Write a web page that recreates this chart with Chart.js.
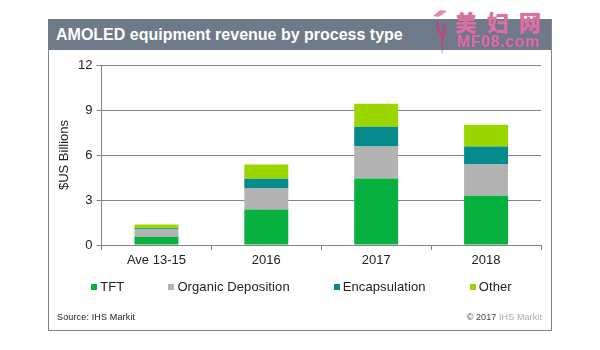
<!DOCTYPE html>
<html>
<head>
<meta charset="utf-8">
<script src="https://cdn.jsdelivr.net/npm/chart.js@4"></script>
<style>
  html, body { margin: 0; padding: 0; background: #fff; }
  #wrap { position: relative; width: 600px; height: 350px; overflow: hidden; font-family: "Liberation Sans", Arial, sans-serif; }
  #frame { position: absolute; left: 48px; top: 19px; width: 502px; height: 311px; border: 1px solid #7f8488; border-top: none; }
  #bar { position: absolute; left: 48px; top: 19px; width: 503px; height: 31px; background: #6e7a87; color: #fff; font-weight: bold; font-size: 16px; line-height: 31px; text-indent: 8px; }
  canvas { position: absolute; left: 0; top: 0; }
  #legend { position: absolute; left: 0; width: 603px; top: 279px; display: flex; justify-content: center; gap: 44px; font-size: 13px; letter-spacing: 0.1px; color: #222; line-height: 16px; }
  #legend span i { display: inline-block; width: 6px; height: 6px; margin-right: 3px; vertical-align: 1px; }
  #source { position: absolute; left: 57px; top: 312px; font-size: 9px; letter-spacing: 0.15px; color: #222; }
  #copy { position: absolute; right: 58px; top: 312px; font-size: 9px; letter-spacing: 0.1px; color: #aaa; }
  #copy b { font-weight: normal; color: #444; }
  .mark { position: absolute; color: #d672a6; white-space: nowrap; text-shadow: 0 0 1px #b04a88; }
  #logo { position: absolute; left: 430px; top: 8px; }
</style>
</head>
<body>
<div id="wrap">
  <div id="frame"></div>
  <div id="bar">AMOLED equipment revenue by process type</div>
  <canvas id="chart" width="600" height="350"></canvas>
  <div id="legend"></div>
  <div id="source">Source: IHS Markit</div>
  <div id="copy"><b>© 2017</b> IHS Markit</div>
  <svg id="logo" width="22" height="50" viewBox="0 0 22 50">
    <path d="M3 8 L10 2 L17 3 L12 7 L8 9 Z" fill="#e88ab0"/>
    <path d="M9 12 C4 16 7 24 11 28 L12 47 L14 28 C18 22 15 16 12 14 C14 20 14 24 12 26 C9 22 8 17 9 12 Z" fill="#c8407f"/>
  </svg>
  <div class="mark" style="left:455px;top:5px;font:900 22px 'Noto Sans CJK SC';letter-spacing:10px;">美妇网</div>
  <div class="mark" style="left:457px;top:33px;font-weight:bold;font-size:16px;letter-spacing:0.6px;">MF08.com</div>
</div>
<script>
const categories = ['Ave 13-15', '2016', '2017', '2018'];
const tft = [0.55, 2.36, 4.44, 3.29];
const organic = [0.49, 1.40, 2.12, 2.07];
const encapsulation = [0.07, 0.66, 1.33, 1.20];
const other = [0.25, 0.94, 1.53, 1.46];

const gridGrey = '#7f8488';

function series(label, data, color) {
    return { label: label, data: data, backgroundColor: color, categoryPercentage: 0.4, barPercentage: 1 };
}

const chart = new Chart(document.getElementById('chart').getContext('2d'), {
    type: 'bar',
    data: {
        labels: categories,
        datasets: [
            series('TFT', tft, '#07b03f'),
            series('Organic Deposition', organic, '#b3b3b3'),
            series('Encapsulation', encapsulation, '#078a8c'),
            series('Other', other, '#9bd600')
        ]
    },
    options: {
        responsive: false,
        animation: false,
        layout: { padding: { left: 56.5, right: 59, top: 65, bottom: 0 } },
        plugins: { legend: { display: false }, tooltip: { enabled: false } },
        scales: {
            x: {
                stacked: true,
                afterFit: function(s) { s.height = 105; },
                grid: { drawOnChartArea: false, color: gridGrey, tickLength: 5 },
                border: { color: gridGrey },
                ticks: { color: '#222', font: { family: 'Liberation Sans', size: 13 }, padding: 3 }
            },
            y: {
                stacked: true,
                min: 0,
                max: 12,
                afterFit: function(s) { s.width = 45; },
                title: { display: true, text: '$US Billions', color: '#222', font: { family: 'Liberation Sans', size: 13 }, padding: 0 },
                grid: { color: gridGrey, tickLength: 5 },
                border: { color: gridGrey },
                ticks: { stepSize: 3, color: '#222', font: { family: 'Liberation Sans', size: 13 }, padding: 4 }
            }
        }
    }
});

document.getElementById('legend').innerHTML = chart.data.datasets.map(d =>
    '<span><i style="background:' + d.backgroundColor + '"></i>' + d.label + '</span>').join('');
</script>
</body>
</html>
